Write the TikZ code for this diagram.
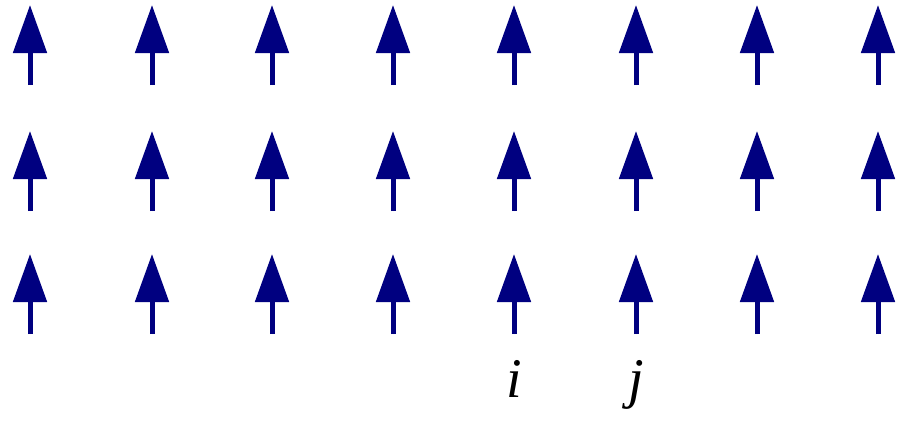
\documentclass[tikz,border=0pt]{standalone}
\usepackage{fontspec}
\setmainfont{Liberation Serif}
\usetikzlibrary{arrows.meta}
\definecolor{spinblue}{RGB}{0,0,128}
\begin{document}
\begin{tikzpicture}[x=1pt, y=1pt, line join=round, >={Triangle[length=48pt, width=33pt]}]
	\useasboundingbox (0,0) rectangle (898,-421);
	\tikzset{spin/.style={draw=spinblue, fill=spinblue, line width=5pt, ->}}
	% lattice of up spins
	\foreach \row/\ybot in {1/-85, 2/-211, 3/-334}{
		\foreach \col/\xc in {1/30, 2/152, 3/272, 4/393, 5/514, 6/636, 7/757, 8/878}{
			\draw[spin] (\xc,\ybot) -- (\xc,\ybot+80);
		}
	}
	% site labels
	\node[anchor=base, font=\fontsize{56}{60}\selectfont\itshape] (sitei) at (514,-397) {i};
	\node[anchor=base, font=\fontsize{56}{60}\selectfont\itshape] (sitej) at (636,-397) {j};
\end{tikzpicture}
\end{document}
